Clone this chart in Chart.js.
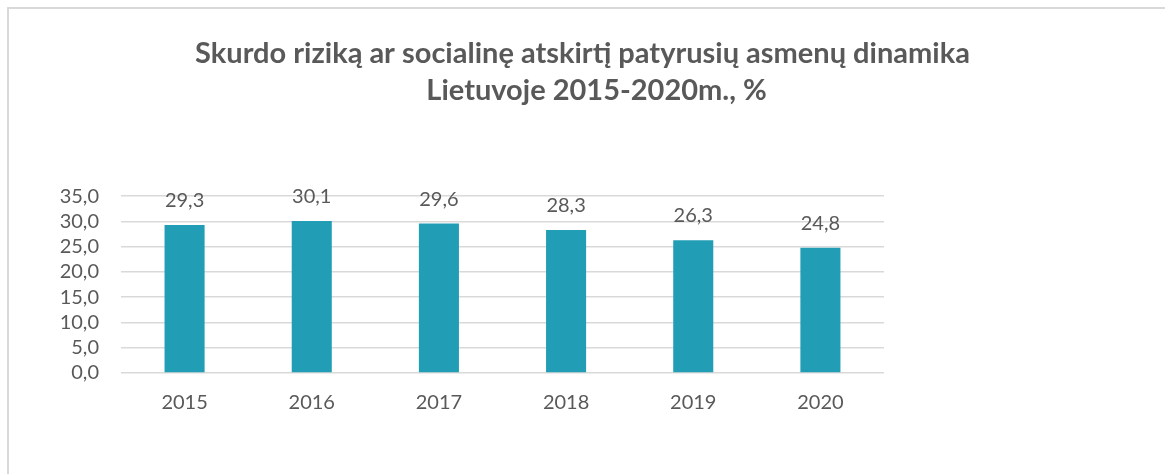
<!DOCTYPE html>
<html lang="lt">
<head>
  <meta charset="UTF-8">
  <title>Skurdo rizika Lietuvoje</title>
  <script src="https://cdn.jsdelivr.net/npm/chart.js"></script>
  <style>
    html, body {
      margin: 0;
      padding: 0;
      background: #fff;
    }
    #frame {
      position: absolute;
      left: 7px;
      top: 7px;
      right: 0;
      bottom: 0;
      border-left: 2px solid #d9d9d9;
      border-top: 2px solid #d9d9d9;
    }
    #chart-container {
      position: absolute;
      left: 0;
      top: 0;
      width: 1165px;
      height: 474px;
    }
  </style>
</head>
<body>
  <div id="frame"></div>
  <div id="chart-container">
    <canvas id="myChart"></canvas>
  </div>

  <script>
    // Chart data
    const years = ['2015', '2016', '2017', '2018', '2019', '2020'];
    const values = [29.3, 30.1, 29.6, 28.3, 26.3, 24.8];
    const titleLines = [
      'Skurdo riziką ar socialinę atskirtį patyrusių asmenų dinamika',
      '    Lietuvoje 2015-2020m., %'
    ];

    const textColor = '#595959';
    const barColor = '#219eb5';

    const fmt = v => v.toFixed(1).replace('.', ',');

    // Value labels above the bars
    const valueLabels = {
      id: 'valueLabels',
      afterDatasetsDraw(chart) {
        const ctx = chart.ctx;
        const meta = chart.getDatasetMeta(0);
        ctx.save();
        ctx.font = '20px Lato';
        ctx.fillStyle = textColor;
        ctx.textAlign = 'center';
        ctx.textBaseline = 'alphabetic';
        meta.data.forEach((bar, i) => {
          ctx.fillText(fmt(values[i]), bar.x, bar.y - 18);
        });
        ctx.restore();
      }
    };

    const ctx = document.getElementById('myChart').getContext('2d');
    const chart = new Chart(ctx, {
      type: 'bar',
      data: {
        labels: years,
        datasets: [{
          data: values,
          backgroundColor: barColor,
          borderWidth: 0,
          barPercentage: 0.315,
          categoryPercentage: 1.0
        }]
      },
      options: {
        responsive: true,
        maintainAspectRatio: false,
        animation: false,
        layout: {
          padding: 0
        },
        plugins: {
          legend: { display: false },
          tooltip: { enabled: false },
          title: {
            display: true,
            text: titleLines,
            color: textColor,
            font: { family: 'Lato', size: 29, weight: 'bold', lineHeight: 1.28 },
            padding: { top: 35, bottom: 87 }
          }
        },
        scales: {
          x: {
            grid: { display: false, drawTicks: false },
            border: { display: false },
            ticks: {
              color: textColor,
              font: { family: 'Lato', size: 20 },
              padding: 18
            },
            afterFit: s => { s.height = 101; }
          },
          y: {
            min: 0,
            max: 35,
            grid: { color: '#d9d9d9', lineWidth: 1.5, drawTicks: false },
            border: { display: false },
            ticks: {
              stepSize: 5,
              autoSkip: false,
              color: textColor,
              font: { family: 'Lato', size: 20 },
              padding: 22,
              callback: v => fmt(v)
            },
            afterFit: s => { s.width = 121; }
          },
          // empty right axis that just reserves the blank space on the right
          yRight: {
            position: 'right',
            min: 0,
            max: 35,
            grid: { display: false },
            border: { display: false },
            ticks: { display: false },
            afterFit: s => { s.width = 281; }
          }
        }
      },
      plugins: [valueLabels]
    });
  </script>
</body>
</html>
